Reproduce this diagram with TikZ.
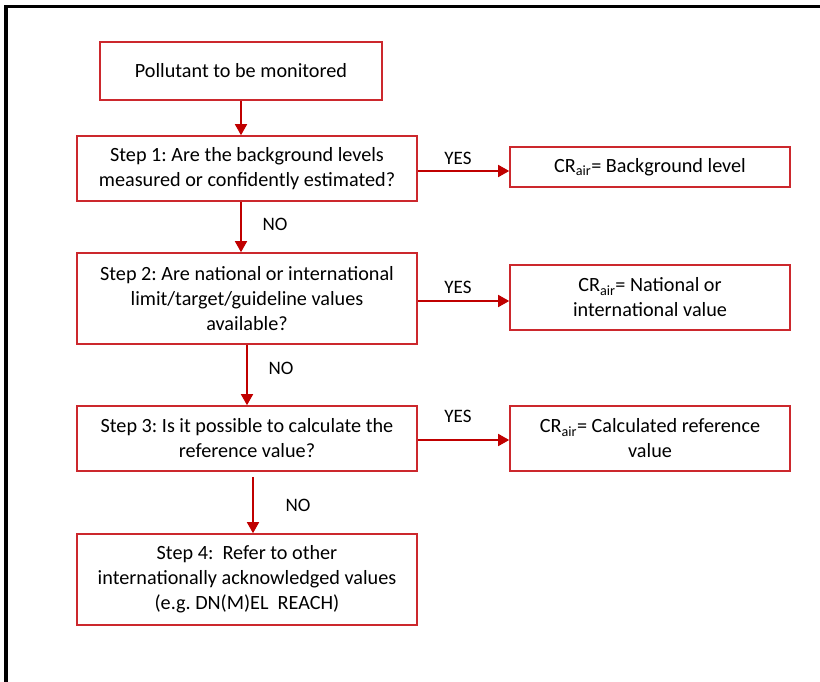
\documentclass[tikz,border=0pt]{standalone}
\usepackage{fontspec}
\setmainfont{Carlito}
\usetikzlibrary{arrows.meta,calc}
\definecolor{boxred}{RGB}{204,40,45}
\definecolor{arrred}{RGB}{192,0,0}
\tikzset{
  flowbox/.style={draw=boxred, line width=1.6pt, align=center, inner sep=0pt, font=\fontsize{20.2}{25}\selectfont\frenchspacing},
  flowarrow/.style={draw=arrred, line width=1.6pt, -{Triangle[length=11pt,width=12pt]}, arrred},
  lbl/.style={font=\fontsize{19}{22}\selectfont, inner sep=0pt}
}
\begin{document}
\begin{tikzpicture}[x=1pt,y=-1pt]
\useasboundingbox (0,0) rectangle (820,682);
% partial frame
\draw[line width=3.2pt, black] (6,682) -- (6,6.5) -- (820,6.5);
% left column
\node[flowbox, minimum width=282pt, minimum height=58pt] (b0) at (241,71) {Pollutant to be monitored};
\node[flowbox, minimum width=340pt, minimum height=65pt] (b1) at (247,168.5) {Step 1: Are the background levels\\measured or confidently estimated?};
\node[flowbox, minimum width=340pt, minimum height=91pt] (b2) at (247,298.5) {Step 2: Are national or international\\limit/target/guideline values\\available?};
\node[flowbox, minimum width=340pt, minimum height=65pt] (b3) at (247,438.5) {Step 3: Is it possible to calculate the\\reference value?};
\node[flowbox, minimum width=340pt, minimum height=91pt] (b4) at (247,579.5) {Step 4:\ \ Refer to other\\internationally acknowledged values\\(e.g. DN(M)EL\ \ REACH)};
% right column
\node[flowbox, minimum width=280pt, minimum height=40pt] (r1) at (650,167) {CR\textsubscript{air}= Background level};
\node[flowbox, minimum width=280pt, minimum height=65pt] (r2) at (650,297.5) {CR\textsubscript{air}= National or\\international value};
\node[flowbox, minimum width=280pt, minimum height=65pt] (r3) at (650,438.5) {CR\textsubscript{air}= Calculated reference\\value};
% vertical arrows
\draw[flowarrow] (b0.south) -- (b0.south |- b1.north);
\draw[flowarrow] ($(b1.south)+(-6,0)$) -- ($(b2.north)+(-6,0)$);
\draw[flowarrow] (b2.south) -- (b3.north);
\draw[flowarrow] ($(b3.south)+(6,5)$) -- ($(b4.north)+(6,0)$);
% horizontal arrows
\draw[flowarrow] ($(b1.east)+(0,2.5)$) -- ($(r1.west)+(0,4)$);
\draw[flowarrow] ($(b2.east)+(0,2.5)$) -- ($(r2.west)+(0,3.5)$);
\draw[flowarrow] ($(b3.east)+(0,1.5)$) -- ($(r3.west)+(0,1.5)$);
% labels
\node[lbl] (n1) at (275,224) {NO};
\node[lbl] (n2) at (281,368) {NO};
\node[lbl] (n3) at (298,505) {NO};
\node[lbl] (y1) at (458,158) {YES};
\node[lbl] (y2) at (458,287) {YES};
\node[lbl] (y3) at (458,416) {YES};
\end{tikzpicture}
\end{document}
